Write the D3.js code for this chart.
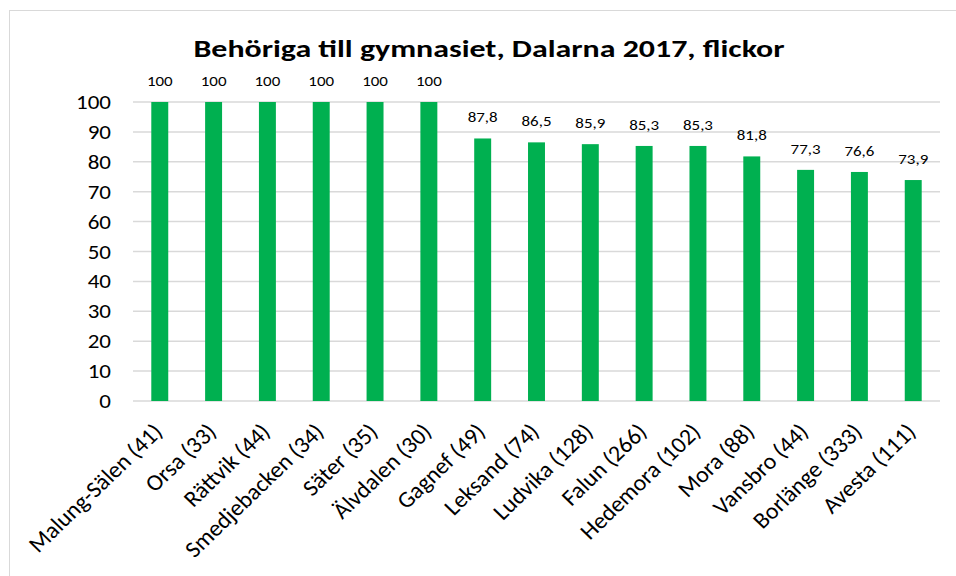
<!DOCTYPE html>
<html>
<head>
<meta charset="utf-8">
<script src="https://cdn.jsdelivr.net/npm/d3@7"></script>
<style>
  body { margin: 0; background: #fff; }
  svg text { font-family: Carlito, Calibri, "Open Sans", "Noto Sans", sans-serif; fill: #000; }
</style>
</head>
<body>
<svg id="chart" width="956" height="576"></svg>
<script>
const kommuner = ['Malung-Sälen (41)', 'Orsa (33)', 'Rättvik (44)', 'Smedjebacken (34)', 'Säter (35)',
  'Älvdalen (30)', 'Gagnef (49)', 'Leksand (74)', 'Ludvika (128)', 'Falun (266)',
  'Hedemora (102)', 'Mora (88)', 'Vansbro (44)', 'Borlänge (333)', 'Avesta (111)']
const andel = [100, 100, 100, 100, 100, 100, 87.8, 86.5, 85.9, 85.3, 85.3, 81.8, 77.3, 76.6, 73.9]
const yTicks = [0, 10, 20, 30, 40, 50, 60, 70, 80, 90, 100]

const svg = d3.select('#chart')
const margin = { left: 133, right: 16, top: 102, bottom: 175 }
const plotW = 956 - margin.left - margin.right
const plotH = 576 - margin.top - margin.bottom

// the reference text renders a bit wider than Carlito, so stretch it horizontally
const stretch = { title: 1.33, tick: 1.15, value: 1.13, cat: 1.04 }

// chart frame (right edge falls outside the picture)
svg.append('rect')
  .attr('x', 9.5).attr('y', 10.5)
  .attr('width', 960).attr('height', 600)
  .attr('fill', '#fff').attr('stroke', '#d9d9d9')

svg.append('text')
  .attr('transform', `translate(489,57) scale(${stretch.title},1)`)
  .attr('text-anchor', 'middle')
  .style('font-size', '24px').style('font-weight', 'bold')
  .text('Behöriga till gymnasiet, Dalarna 2017, flickor')

const g = svg.append('g').attr('transform', `translate(${margin.left},${margin.top})`)

const x = d3.scaleBand().domain(kommuner).range([0, plotW]).paddingInner(0.685).paddingOuter(0.34)
const y = d3.scaleLinear().domain([0, 100]).range([plotH, 0])

// gridlines
g.selectAll('line.grid').data(yTicks).enter()
  .append('line')
  .attr('class', 'grid')
  .attr('x1', 0).attr('x2', plotW)
  .attr('y1', d => y(d)).attr('y2', d => y(d))
  .attr('stroke', '#d9d9d9').attr('stroke-width', 1.5)

// y axis labels
g.selectAll('text.ytick').data(yTicks).enter()
  .append('text')
  .attr('class', 'ytick')
  .attr('transform', d => `translate(-22,${y(d)}) scale(${stretch.tick},1)`)
  .attr('dy', '0.35em')
  .attr('text-anchor', 'end')
  .style('font-size', '20px')
  .text(d => d)

// bars
g.selectAll('rect.bar').data(andel).enter()
  .append('rect')
  .attr('class', 'bar')
  .attr('x', (d, i) => x(kommuner[i]))
  .attr('y', d => y(d))
  .attr('width', x.bandwidth())
  .attr('height', d => plotH - y(d))
  .attr('fill', '#00b050')

// value labels
g.selectAll('text.val').data(andel).enter()
  .append('text')
  .attr('class', 'val')
  .attr('transform', (d, i) => `translate(${x(kommuner[i]) + x.bandwidth() / 2},${y(d) - 16}) scale(${stretch.value},1)`)
  .attr('text-anchor', 'middle')
  .style('font-size', '15px')
  .text(d => String(d).replace('.', ','))

// category labels, rotated
g.selectAll('text.cat').data(kommuner).enter()
  .append('text')
  .attr('class', 'cat')
  .attr('transform', d => `translate(${x(d) + x.bandwidth() / 2 + 4},${plotH + 32}) scale(${stretch.cat},1) rotate(-45)`)
  .attr('text-anchor', 'end')
  .style('font-size', '23px')
  .text(d => d)
</script>
</body>
</html>
